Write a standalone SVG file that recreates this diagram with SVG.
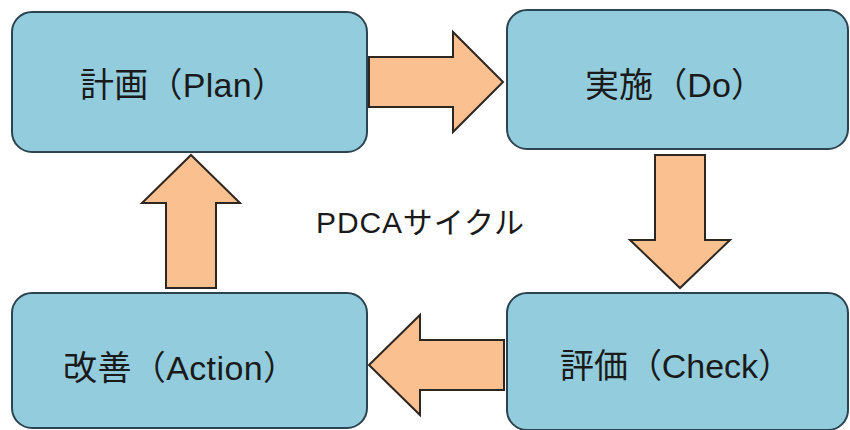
<svg xmlns="http://www.w3.org/2000/svg" width="850" height="430" viewBox="0 0 850 430">
  <style>
    .box { fill: #93cddd; stroke: #2b4450; stroke-width: 2; }
    .lbl { font-family: "Liberation Sans", "Noto Sans CJK JP", sans-serif; font-size: 34px; fill: #1a1a1a; }
    .arrow { fill: #fac090; stroke: #2e2620; stroke-width: 2; stroke-linejoin: miter; }
    .title { font-family: "Liberation Sans", "Noto Sans CJK JP", sans-serif; font-size: 30px; fill: #1a1a1a; }
  </style>
  <rect width="850" height="430" fill="#ffffff"/>
  <g id="plan">
    <rect class="box" x="12" y="12" width="355" height="140" rx="20" ry="20"/>
    <text class="lbl" x="80" y="97" textLength="206">計画（Plan）</text>
  </g>
  <g id="do">
    <rect class="box" x="507" y="10" width="341" height="139" rx="20" ry="20"/>
    <text class="lbl" x="585" y="97" textLength="180">実施（Do）</text>
  </g>
  <g id="check">
    <rect class="box" x="507" y="293" width="341" height="137" rx="20" ry="20"/>
    <text class="lbl" x="560" y="378" textLength="232">評価（Check）</text>
  </g>
  <g id="action">
    <rect class="box" x="12" y="293" width="355" height="135" rx="20" ry="20"/>
    <text class="lbl" x="63" y="380" textLength="234">改善（Action）</text>
  </g>
  <g id="connectors">
    <polygon class="arrow" points="369,57 453,57 453,32 503,82 453,132 453,107 369,107"/>
    <polygon class="arrow" points="655,155 705,155 705,240 730,240 680,288 630,240 655,240"/>
    <polygon class="arrow" points="504,340 420,340 420,315 369,365 420,415 420,390 504,390"/>
    <polygon class="arrow" points="191,155 240,203 216,203 216,288 166,288 166,203 142,203"/>
  </g>
  <text class="title" x="316" y="233" textLength="208">PDCAサイクル</text>
</svg>
